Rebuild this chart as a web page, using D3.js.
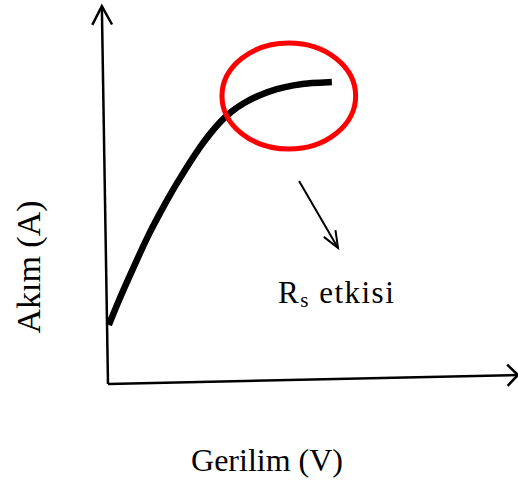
<!DOCTYPE html>
<html>
<head>
<meta charset="utf-8">
<script src="https://cdn.jsdelivr.net/npm/d3@7"></script>
<style>
  html, body { margin: 0; padding: 0; background: #fff; }
  svg { display: block; }
  text { font-family: "Liberation Serif", "Times New Roman", serif; fill: #000; }
</style>
</head>
<body>
<div id="chart"></div>
<script>
// I–V characteristic of a solar cell: current rises with voltage and
// flattens near the top, where the series resistance (Rs) dominates.
const voltage = [0.2, 2.9, 5.4, 7.8, 10.2, 12.7, 15.1, 17.6, 20.0, 22.4, 24.9, 27.3, 29.8, 33.4, 37.1, 41.2, 45.1, 49.8, 54.6];
const current = [15.7, 22.9, 29.0, 34.8, 40.4, 45.5, 50.3, 54.8, 59.0, 63.0, 66.6, 69.7, 72.3, 75.0, 76.9, 78.5, 79.5, 80.1, 80.3];

// Axis lines (hand-drawn look, slightly skewed), in data units
const xAxisEnds = [[0, 0], [100, 2.4]];
const yAxisEnds = [[0, 0], [-1.5, 100.5]];

// Highlighted region (ellipse) and the pointer toward its label
const highlight = { cx: 44.1, cy: 76.6, rx: 16.3, ry: 14.1 };
const pointer = [[46.6, 54.0], [56.1, 36.2]];

const xLabel = "Gerilim (V)";
const yLabel = "Akım (A)";
const noteMain = "R", noteSub = "s", noteRest = " etkisi";

const W = 518, H = 481;
const x = d3.scaleLinear().domain([0, 100]).range([108, 518]);
const y = d3.scaleLinear().domain([0, 100]).range([384, 8]);

const svg = d3.select("#chart").append("svg")
  .attr("width", W).attr("height", H);

// open chevron arrowhead at the end of segment p0->p1 (pixel coords)
function chevron(p0, p1, len, halfAngle, width) {
  const ang = Math.atan2(p1[1] - p0[1], p1[0] - p0[0]) + Math.PI;
  const a = halfAngle * Math.PI / 180;
  const w1 = [p1[0] + len * Math.cos(ang - a), p1[1] + len * Math.sin(ang - a)];
  const w2 = [p1[0] + len * Math.cos(ang + a), p1[1] + len * Math.sin(ang + a)];
  svg.append("path")
    .attr("d", d3.line()([w1, p1, w2]))
    .attr("fill", "none").attr("stroke", "#000")
    .attr("stroke-width", width)
    .attr("stroke-linejoin", "miter").attr("stroke-linecap", "butt");
}

function arrowLine(ends, len, halfAngle, width) {
  const p = ends.map(d => [x(d[0]), y(d[1])]);
  svg.append("path")
    .attr("d", d3.line()(p))
    .attr("fill", "none").attr("stroke", "#000")
    .attr("stroke-width", width);
  chevron(p[0], p[1], len, halfAngle, width);
}

// axes
arrowLine(xAxisEnds, 15, 45, 2.5);
arrowLine(yAxisEnds, 21, 28, 2.5);

// I–V curve
const pts = voltage.map((v, i) => [v, current[i]]);
svg.append("path")
  .datum(pts)
  .attr("d", d3.line().x(d => x(d[0])).y(d => y(d[1])).curve(d3.curveBasis))
  .attr("fill", "none").attr("stroke", "#000")
  .attr("stroke-width", 6.5).attr("stroke-linecap", "butt");

// highlight ellipse
svg.append("ellipse")
  .attr("cx", x(highlight.cx)).attr("cy", y(highlight.cy))
  .attr("rx", x(highlight.cx + highlight.rx) - x(highlight.cx))
  .attr("ry", y(highlight.cy) - y(highlight.cy + highlight.ry))
  .attr("fill", "none").attr("stroke", "#ff0000").attr("stroke-width", 5);

// pointer arrow
arrowLine(pointer, 18, 22, 2);

// annotation label
const note = svg.append("text")
  .attr("x", 278).attr("y", 303)
  .attr("font-size", 31)
  .attr("letter-spacing", 1.5);
note.append("tspan").text(noteMain);
note.append("tspan").attr("font-size", 21).attr("dy", 4).text(noteSub);
note.append("tspan").attr("dy", -4).text(noteRest);

// axis titles
svg.append("text")
  .attr("x", 267).attr("y", 471)
  .attr("text-anchor", "middle")
  .attr("font-size", 32)
  .text(xLabel);

svg.append("text")
  .attr("transform", "translate(40,267) rotate(-90)")
  .attr("text-anchor", "middle")
  .attr("font-size", 34)
  .text(yLabel);
</script>
</body>
</html>
